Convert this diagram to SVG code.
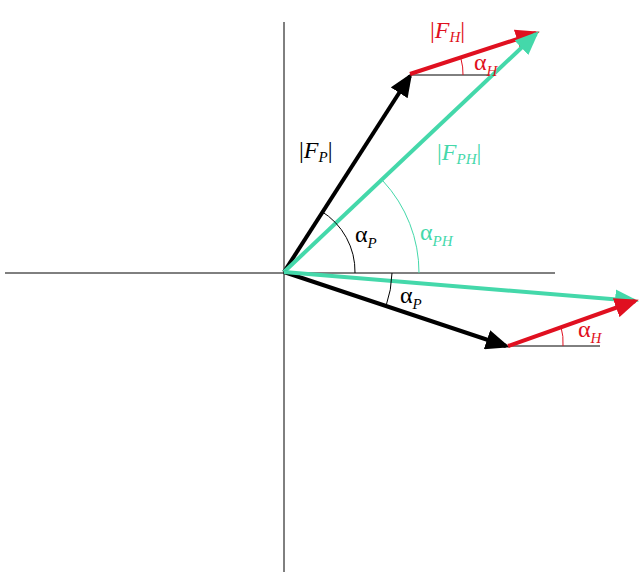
<svg xmlns="http://www.w3.org/2000/svg" width="640" height="580" viewBox="0 0 640 580">
<style>
.t{font-family:"Liberation Serif",serif;font-size:24px}
.i{font-style:italic}
.s{font-size:15px;font-style:italic}
.ax{stroke:#000;stroke-width:1;fill:none}
.arc{fill:none;stroke-width:1}
</style>
<defs>
<marker id="mk" markerWidth="6" markerHeight="5" refX="5" refY="2.5" orient="auto" markerUnits="strokeWidth"><path d="M0,0L6,2.5L0,5z" fill="#000"/></marker>
<marker id="mr" markerWidth="6" markerHeight="5" refX="5" refY="2.5" orient="auto" markerUnits="strokeWidth"><path d="M0,0L6,2.5L0,5z" fill="#e01020"/></marker>
<marker id="mg" markerWidth="6" markerHeight="5" refX="5" refY="2.5" orient="auto" markerUnits="strokeWidth"><path d="M0,0L6,2.5L0,5z" fill="#44d8aa"/></marker>
</defs>
<g id="axes">
<line class="ax" x1="284" y1="22" x2="284" y2="572"/>
<line class="ax" x1="5" y1="273" x2="555" y2="273"/>
<line class="ax" x1="410" y1="75" x2="490" y2="75"/>
<line class="ax" x1="508" y1="346" x2="600" y2="346"/>
</g>
<g id="connectors">
<line x1="284" y1="272" x2="410" y2="76" stroke="#000" stroke-width="4" marker-end="url(#mk)"/>
<line x1="410" y1="74" x2="536" y2="33" stroke="#e01020" stroke-width="4" marker-end="url(#mr)"/>
<line x1="284" y1="272" x2="536" y2="34" stroke="#44d8aa" stroke-width="4" marker-end="url(#mg)"/>
<line x1="284" y1="272" x2="506" y2="346" stroke="#000" stroke-width="4" marker-end="url(#mk)"/>
<line x1="284" y1="272" x2="635" y2="301" stroke="#44d8aa" stroke-width="4" marker-end="url(#mg)"/>
<line x1="508" y1="346" x2="635" y2="301" stroke="#e01020" stroke-width="4" marker-end="url(#mr)"/>
<path class="arc" stroke="#000" d="M321,211A71,71 0 0 1 355,273"/>
<path class="arc" stroke="#44d8aa" d="M383,181A135,135 0 0 1 419,273"/>
<path class="arc" stroke="#e01020" d="M461,59A53,53 0 0 1 463,75"/>
<path class="arc" stroke="#000" d="M392,273A108,108 0 0 1 386,306"/>
<path class="arc" stroke="#e01020" d="M561,327A55,55 0 0 1 563,346"/>
</g>
<g id="labels" class="t">
<text x="430" y="38" fill="#e01020">|<tspan class="i">F</tspan><tspan class="s" dy="4">H</tspan><tspan dy="-4">|</tspan></text>
<text x="474" y="70" fill="#e01020">α<tspan class="s" dy="6">H</tspan></text>
<text x="299" y="158" fill="#000">|<tspan class="i">F</tspan><tspan class="s" dy="4">P</tspan><tspan dy="-4">|</tspan></text>
<text x="437" y="160" fill="#44d8aa">|<tspan class="i">F</tspan><tspan class="s" dy="4">PH</tspan><tspan dy="-4">|</tspan></text>
<text x="420" y="240" fill="#44d8aa">α<tspan class="s" dy="6">PH</tspan></text>
<text x="355" y="242" fill="#000">α<tspan class="s" dy="6">P</tspan></text>
<text x="400" y="303" fill="#000">α<tspan class="s" dy="6">P</tspan></text>
<text x="578" y="337" fill="#e01020">α<tspan class="s" dy="6">H</tspan></text>
</g>
</svg>
